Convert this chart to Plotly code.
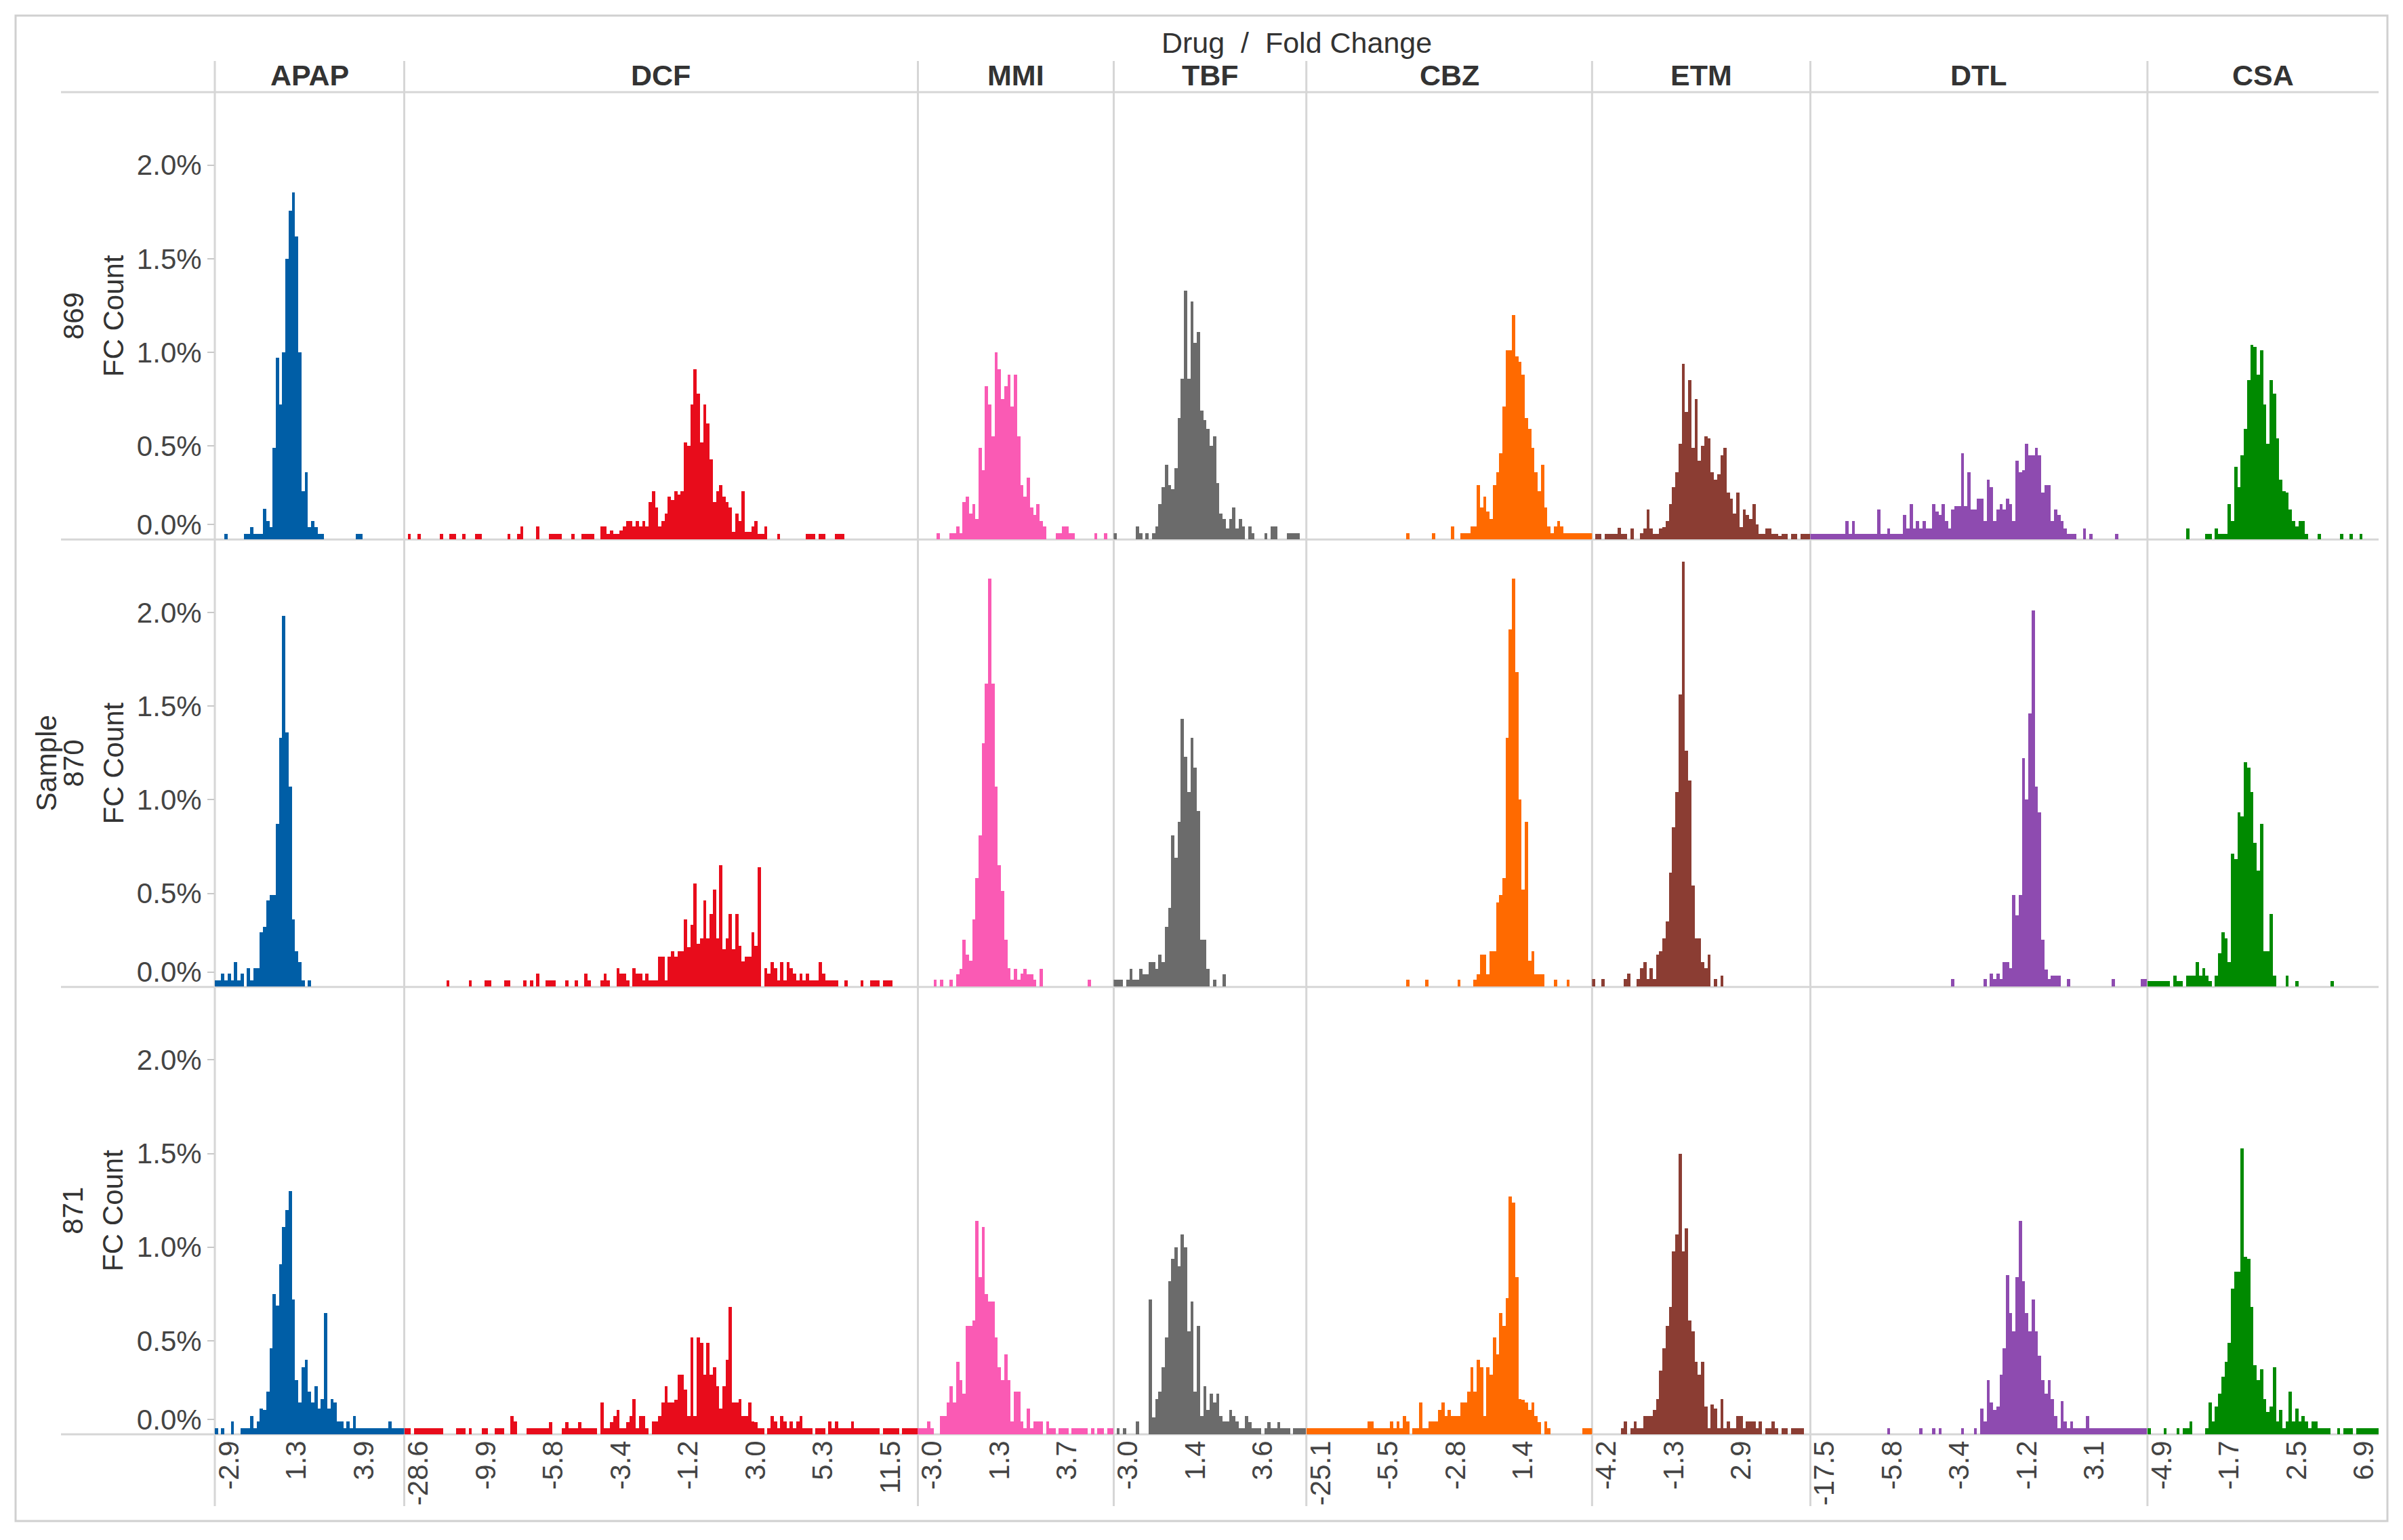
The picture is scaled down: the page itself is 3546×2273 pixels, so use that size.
import plotly.graph_objects as go
from plotly.subplots import make_subplots

# facet layout: columns = drug, rows = sample
drugs = ["APAP", "DCF", "MMI", "TBF", "CBZ", "ETM", "DTL", "CSA"]
samples = ["869", "870", "871"]
colors = ["#005ea6", "#e80c1b", "#fa5ab4", "#6b6b6b", "#ff6a00", "#8b3d33", "#8e4bb0", "#008a00"]

# fold change bin labels shown under each drug
apap_ticks = ["-2.9", "1.3", "3.9"]
dcf_ticks = ["-28.6", "-9.9", "-5.8", "-3.4", "-1.2", "3.0", "5.3", "11.5"]
mmi_ticks = ["-3.0", "1.3", "3.7"]
tbf_ticks = ["-3.0", "1.4", "3.6"]
cbz_ticks = ["-25.1", "-5.5", "-2.8", "1.4"]
etm_ticks = ["-4.2", "-1.3", "2.9"]
dtl_ticks = ["-17.5", "-5.8", "-3.4", "-1.2", "3.1"]
csa_ticks = ["-4.9", "-1.7", "2.5", "6.9"]

# FC count (% of total) per fold change bin
apap_869 = [0, 0, 0, .03, 0, 0, 0, 0, 0, .03,
            .03, .065, .03, .03, .03, .165, .1, .065, .49, .97,
            .72, 1.0, 1.5, 1.755, 1.855, 1.62, 1.0, .26, .36, .065,
            .1, .065, .03, .03, 0, 0, 0, 0, 0, 0,
            0, 0, 0, 0, .03, .03, 0, 0, 0, 0,
            0, 0, 0, 0, 0, 0, 0, 0, 0]
apap_870 = [.035, .035, .07, .035, .07, .035, .13, .035, .07, 0,
            .1, .035, .1, .1, .29, .32, .46, .49, .49, .87,
            1.33, 1.98, 1.36, 1.07, .36, .19, .13, .035, 0, .035,
            0, 0, 0, 0, 0, 0, 0, 0, 0, 0,
            0, 0, 0, 0, 0, 0, 0, 0, 0, 0,
            0, 0, 0, 0, 0, 0, 0, 0, 0]
apap_871 = [.034, 0, .034, 0, 0, .07, 0, 0, .034, .034,
            .034, .1, .034, .07, .14, .13, .23, .46, .75, .69,
            .91, 1.11, 1.2, 1.3, .72, .29, .17, .36, .4, .23,
            .17, .26, .14, .19, .65, .14, .19, .17, .07, .07,
            .034, .07, .034, .1, .034, .034, .034, .034, .034, .034,
            .034, .034, .034, .034, .07, .034, .034, .034, .034]

dcf_869 = [0, .03, 0, 0, .03, 0, 0, 0, 0, 0,
           0, .03, 0, 0, .03, .03, 0, 0, .03, 0,
           0, 0, .03, .03, 0, 0, 0, 0, 0, 0,
           0, 0, .03, 0, 0, .03, .07, 0, 0, 0,
           0, .07, 0, 0, 0, .03, .03, .03, .03, 0,
           0, 0, .03, 0, 0, .03, .03, .03, .03, 0,
           0, .07, .07, .03, .05, .03, .03, .05, .07, .1,
           .1, .07, .1, .07, .1, .07, .2, .26, .17, .07,
           .1, .14, .23, .21, .26, .24, .26, .52, .5, .72,
           .91, .78, .52, .72, .62, .43, .2, .26, .29, .23,
           .2, .17, .04, .14, .1, .26, .04, .04, .07, .1,
           .03, .03, .07, 0, 0, 0, .03, 0, 0, 0,
           0, 0, 0, 0, 0, .03, .03, .03, 0, .03,
           .03, 0, 0, 0, .03, .03, .03, 0, 0, 0,
           0, 0, 0, 0, 0, 0, 0, 0, 0, 0,
           0, 0, 0, 0, 0, 0, 0, 0, 0, 0]
dcf_870 = [0, 0, 0, 0, 0, 0, 0, 0, 0, 0,
           0, 0, 0, .035, 0, 0, 0, 0, 0, 0,
           .035, 0, 0, 0, 0, .035, .035, 0, 0, 0,
           0, .035, .035, 0, 0, 0, 0, .035, 0, .035,
           0, .07, 0, 0, .035, .035, .035, 0, 0, 0,
           .035, 0, 0, .035, 0, 0, .07, .035, 0, 0,
           0, .035, .07, .035, 0, 0, .1, .07, .07, .035,
           0, .1, .07, .07, .035, .07, .035, .035, .035, .16,
           .16, .035, .16, .19, .16, .19, .19, .36, .21, .33,
           .55, .23, .26, .46, .26, .39, .52, .26, .65, .2,
           .26, .39, .2, .39, .22, .135, .16, .16, .29, .22,
           .64, 0, .1, .07, .13, .1, .035, .13, .035, .13,
           .1, .07, .035, .07, .035, .07, .035, .035, .035, .13,
           .07, .035, .035, .035, .035, 0, 0, .035, 0, 0,
           0, 0, .035, 0, 0, .035, .035, .035, 0, .035,
           .035, .035, 0, 0, 0, 0, 0, 0, 0, 0]
dcf_871 = [.034, .034, 0, .034, .034, .034, .034, .034, .034, .034,
           .034, .034, 0, 0, 0, 0, .034, .034, .034, 0,
           .034, 0, 0, 0, .034, .034, 0, 0, .034, .034,
           .034, 0, 0, .1, .07, 0, 0, 0, .034, .034,
           .034, .034, .034, .034, .034, .065, 0, 0, 0, .034,
           .065, .034, .034, .034, .065, .034, .034, .034, .034, .034,
           0, .17, .034, .034, .065, .1, .13, .034, .034, .065,
           .1, .19, .034, .1, .1, .034, 0, .07, .07, .1,
           .17, .26, .17, .17, .185, .32, .32, .24, .1, .52,
           .1, .52, .49, .32, .49, .32, .36, .26, .14, .26,
           .4, .68, .17, .17, .19, .1, .1, .17, .07, .065,
           .034, .034, 0, .034, .1, .07, .034, .1, .07, .034,
           .07, .034, .07, .1, .034, .034, .034, 0, .034, .034,
           .034, 0, .07, .034, .07, .034, .034, .034, .034, .07,
           .034, .034, .034, .034, .034, .034, .034, .034, 0, .034,
           .034, .034, .034, .034, 0, .034, .034, .034, .034, .034]

mmi_869 = [0, 0, 0, 0, 0, 0, .035, 0, 0, 0,
           .035, .035, .07, .035, .2, .23, .14, .19, .11, .49,
           .37, .82, .72, .55, 1.0, .91, .75, .82, .88, .71,
           .88, .55, .29, .23, .33, .17, .13, .19, .1, .07,
           0, 0, 0, .035, .035, .07, .07, .035, .035, 0,
           0, 0, 0, 0, 0, .035, 0, 0, .035, 0,
           0]
mmi_870 = [0, 0, 0, 0, 0, .037, 0, .037, 0, 0,
           .037, 0, .065, .095, .25, .17, .14, .36, .58, .81,
           1.3, 1.62, 2.18, 1.62, 1.07, .65, .51, .25, .1, .037,
           .095, .037, .07, .095, .065, .065, .037, 0, .095, 0,
           0, 0, 0, 0, 0, 0, 0, 0, 0, 0,
           0, 0, 0, .037, 0, 0, 0, 0, 0, 0,
           0]
mmi_871 = [.034, .034, .034, .07, .034, 0, 0, .1, .1, .17,
           .26, .17, .39, .29, .22, .58, .58, .61, 1.14, .84,
           1.11, .75, .71, .71, .52, .36, .29, .43, .29, .07,
           .23, .23, .07, .034, .14, .034, .07, .07, .07, 0,
           .07, .034, .034, 0, .034, .034, .034, 0, .034, .034,
           .034, .034, .034, 0, .034, 0, .034, .034, 0, .034,
           .034]

tbf_869 = [.035, 0, 0, 0, 0, 0, 0, .07, .035, 0,
           .035, 0, .035, .07, .19, .28, .4, .29, .27, .38,
           .65, .86, 1.33, .86, 1.27, 1.05, 1.11, .69, .64, .59,
           .5, .55, .3, .14, .11, .06, .11, .17, .06, .11,
           .07, 0, .07, .035, 0, 0, 0, .035, 0, .07,
           .07, 0, 0, 0, .035, .035, .035, .035, 0, 0]
tbf_870 = [.037, .037, .037, 0, .037, .095, .037, .037, .095, .065,
           .065, .13, .13, .095, .17, .13, .32, .42, .81, .69,
           .88, 1.43, 1.23, 1.04, 1.33, 1.17, .94, .25, .25, .095,
           0, .037, 0, 0, .065, 0, 0, 0, 0, 0,
           0, 0, 0, 0, 0, 0, 0, 0, 0, 0,
           0, 0, 0, 0, 0, 0, 0, 0, 0, 0]
tbf_871 = [0, .034, 0, .034, 0, 0, 0, .07, 0, 0,
           0, .72, .09, .19, .23, .36, .52, .82, .94, 1.0,
           .9, 1.07, 1.0, .55, .71, .23, .58, .1, .26, .13,
           .22, .17, .22, .1, .07, .07, .13, .1, .07, .034,
           .034, .1, .065, .034, .034, .034, 0, .034, .065, .034,
           .034, .065, .034, .034, .034, 0, .034, .034, .034, .034]

cbz_869 = [0, 0, 0, 0, 0, 0, 0, 0, 0, 0,
           0, 0, 0, 0, 0, 0, 0, 0, 0, 0,
           0, 0, 0, 0, 0, 0, 0, 0, 0, 0,
           0, .035, 0, 0, 0, 0, 0, 0, 0, .035,
           0, 0, 0, 0, 0, .07, 0, 0, .035, .035,
           .035, .07, .07, .29, .17, .23, .15, .11, .29, .36,
           .46, .71, 1.01, 1.01, 1.2, .98, .95, .88, .65, .59,
           .49, .36, .26, .4, .17, .07, .035, .07, .1, .07,
           .035, .035, .035, .035, .035, .035, .035, .035, .035]
cbz_870 = [0, 0, 0, 0, 0, 0, 0, 0, 0, 0,
           0, 0, 0, 0, 0, 0, 0, 0, 0, 0,
           0, 0, 0, 0, 0, 0, 0, 0, 0, 0,
           0, .037, 0, 0, 0, 0, 0, .037, 0, 0,
           0, 0, 0, 0, 0, 0, 0, .037, 0, 0,
           0, 0, .037, .065, .17, .17, .065, .19, .19, .45,
           .49, .58, 1.33, 1.91, 2.18, 1.68, 1.0, .52, .88, .14,
           .19, .065, .065, .065, 0, 0, 0, .037, 0, 0,
           0, .037, 0, 0, 0, 0, 0, 0, 0]
cbz_871 = [.034, .034, .034, .034, .034, .034, .034, .034, .034, .034,
           .034, .034, .034, .034, .034, .034, .034, .034, .034, .07,
           .07, .034, .034, .034, .034, .034, .07, .034, .07, .034,
           .1, .07, 0, .034, .034, .17, .034, .034, .07, .07,
           .07, .13, .17, .1, .13, .1, .1, .1, .17, .17,
           .23, .36, .23, .4, .36, .1, .36, .32, .52, .43,
           .65, .58, .73, 1.27, 1.24, .84, .19, .185, .17, .13,
           .17, .1, .065, 0, .07, .034, 0, 0, 0, 0,
           0, 0, 0, 0, 0, 0, .034, .034, .034]

etm_869 = [0, .03, .03, 0, .03, .03, .03, .03, .063, .03,
           .03, 0, .06, 0, 0, .035, .06, .16, .06, .03,
           .03, .06, .065, .1, .19, .28, .36, .51, .94, .68,
           .85, .49, .75, .42, .5, .55, .54, .36, .32, .35,
           .45, .49, .25, .22, .14, .25, .066, .16, .13, .11,
           .19, .08, .03, .03, .06, .06, .03, .03, .02, .03,
           .03, 0, .03, .03, 0, .03, .03, .03]
etm_870 = [.04, 0, 0, .04, 0, 0, 0, 0, 0, 0,
           .04, .07, 0, 0, .04, .1, .13, .04, .1, .04,
           .17, .19, .26, .35, .61, .85, 1.04, 1.56, 2.27, 1.26,
           1.1, .54, .26, .26, .13, .1, .17, 0, .04, 0,
           .06, 0, 0, 0, 0, 0, 0, 0, 0, 0,
           0, 0, 0, 0, 0, 0, 0, 0, 0, 0,
           0, 0, 0, 0, 0, 0, 0, 0]
etm_871 = [0, 0, 0, 0, 0, 0, 0, 0, 0, .034,
           .07, 0, .034, .07, .034, .034, .1, .1, .1, .13,
           .19, .34, .46, .58, .68, .98, 1.07, 1.5, .98, 1.1,
           .61, .55, .39, .32, .39, .15, .034, .16, .14, .034,
           .19, .034, .07, .034, .034, .1, .1, .034, .07, .07,
           .07, .034, .07, 0, .034, .034, .07, .034, 0, .034,
           .034, 0, .034, .034, .034, .034, 0, 0]

dtl_869 = [.03, .03, .03, .03, .03, .03, .03, .03, .03, .03,
           .03, .1, .03, .1, .03, .03, .03, .03, .03, .03,
           .03, .16, .03, .03, .06, .03, .03, .03, .03, .13,
           .06, .19, .06, .1, .06, .1, .06, .06, .19, .15,
           .13, .19, .1, .06, .16, .18, .18, .46, .18, .36,
           .16, .16, .22, .22, .1, .32, .28, .1, .16, .19,
           .16, .22, .19, .1, .42, .36, .37, .51, .45, .45,
           .49, .45, .25, .29, .29, .1, .16, .13, .1, .06,
           .03, .03, .03, 0, 0, .06, 0, .03, 0, 0,
           0, 0, 0, 0, 0, .03, 0, 0, 0, 0,
           0, 0, 0, 0, 0]
dtl_870 = [0, 0, 0, 0, 0, 0, 0, 0, 0, 0,
           0, 0, 0, 0, 0, 0, 0, 0, 0, 0,
           0, 0, 0, 0, 0, 0, 0, 0, 0, 0,
           0, 0, 0, 0, 0, 0, 0, 0, 0, 0,
           0, 0, 0, 0, .04, 0, 0, 0, 0, 0,
           0, 0, 0, 0, .04, 0, .07, .04, .07, .04,
           .13, .13, .1, .49, .38, .49, 1.22, 1.0, 1.46, 2.01,
           1.07, .93, .25, .09, .04, .06, .06, .06, 0, 0,
           .04, 0, 0, 0, 0, 0, 0, 0, 0, 0,
           0, 0, 0, 0, .04, 0, 0, 0, 0, 0,
           0, 0, 0, .04, .04]
dtl_871 = [0, 0, 0, 0, 0, 0, 0, 0, 0, 0,
           0, 0, 0, 0, 0, 0, 0, 0, 0, 0,
           0, 0, 0, 0, .034, 0, 0, 0, 0, 0,
           0, 0, 0, 0, .034, 0, 0, 0, .034, 0,
           .034, 0, 0, 0, 0, 0, 0, .034, 0, 0,
           0, .034, 0, .14, .07, .29, .17, .13, .15, .32,
           .46, .85, .65, .55, .84, 1.14, .82, .65, .55, .72,
           .55, .42, .29, .22, .29, .19, .1, .034, .18, .07,
           .034, .07, .034, .034, .034, .034, .1, .034, .034, .034,
           .034, .034, .034, .034, .034, .034, .034, .034, .034, .034,
           .034, .034, .034, .034, .034]

csa_869 = [0, 0, 0, 0, 0, 0, 0, 0, 0, 0,
           0, 0, .06, 0, 0, 0, 0, 0, .03, .03,
           0, .06, .03, .03, .03, .19, .1, .39, .28, .45,
           .59, .85, 1.04, 1.03, .88, 1.01, .72, .51, .85, .78,
           .54, .32, .26, .25, .16, .1, .07, .1, .1, .03,
           0, 0, 0, .03, 0, 0, 0, 0, 0, 0,
           .03, 0, 0, .03, 0, 0, .03, 0, 0, 0,
           0, 0]
csa_870 = [.03, .03, .03, .03, .03, .03, .03, 0, .06, .03,
           .03, 0, .06, .06, .06, .13, .06, .1, .06, .03,
           0, .06, .18, .29, .26, .13, .71, .68, .93, .91,
           1.2, 1.17, 1.04, .77, .62, .87, .19, .19, .39, .06,
           0, 0, 0, .06, 0, 0, .03, 0, 0, 0,
           0, 0, 0, 0, 0, 0, 0, .03, 0, 0,
           0, 0, 0, 0, 0, 0, 0, 0, 0, 0,
           0, 0]
csa_871 = [.034, 0, 0, 0, 0, .034, 0, 0, 0, .034,
           0, .034, .034, .07, 0, 0, 0, 0, .034, .17,
           .07, .15, .22, .31, .39, .49, .78, .87, .87, 1.53,
           .95, .94, .68, .37, .29, .35, .19, .12, .15, .36,
           .07, .13, .034, .07, .23, .07, .14, .07, .1, .07,
           .034, .07, .07, .034, .034, .034, .034, 0, 0, .034,
           0, .034, .034, .034, 0, .034, .034, .034, .034, .034,
           .034, .034]

panels = [
    [apap_869, apap_870, apap_871],
    [dcf_869, dcf_870, dcf_871],
    [mmi_869, mmi_870, mmi_871],
    [tbf_869, tbf_870, tbf_871],
    [cbz_869, cbz_870, cbz_871],
    [etm_869, etm_870, etm_871],
    [dtl_869, dtl_870, dtl_871],
    [csa_869, csa_870, csa_871],
]
ticks = [apap_ticks, dcf_ticks, mmi_ticks, tbf_ticks, cbz_ticks, etm_ticks, dtl_ticks, csa_ticks]

nbins = [max(len(s) for s in p) for p in panels]

# the page body has an 8px margin, so the figure is placed 8px in from the window corner
OFF = 8
W, H = 3546 - 2 * OFF, 2273 - 2 * OFF
L, T = 317 - OFF, 136 - OFF
R, B = W - (3510 - OFF), H - (2117 - OFF)
pw, ph = W - L - R, H - T - B
FONT = "Arial, 'Liberation Sans', sans-serif"
TXT = 42


def fx(px):
    # px measured on the full window
    return (px - OFF - L) / pw


def fy(py):
    return (H - B - (py - OFF)) / ph


fig = make_subplots(rows=3, cols=8, column_widths=nbins,
                    horizontal_spacing=0, vertical_spacing=0)

for c, drug in enumerate(drugs):
    n = nbins[c]
    for r in range(3):
        vals = panels[c][r] + [0] * (n - len(panels[c][r]))
        fig.add_trace(go.Bar(x=list(range(n)), y=vals,
                             marker=dict(color=colors[c], line=dict(width=0)),
                             name=drug + " " + samples[r], showlegend=False),
                      row=r + 1, col=c + 1)
        fig.update_xaxes(range=[-0.5, n - 0.5], showgrid=False, zeroline=False,
                         showline=False, ticks="", showticklabels=False,
                         fixedrange=True, row=r + 1, col=c + 1)
    # bin labels only under the bottom row
    fig.update_xaxes(showticklabels=True,
                     tickvals=[4 + 21 * j for j in range(len(ticks[c]))],
                     ticktext=ticks[c], tickangle=-90,
                     tickfont=dict(family=FONT, size=TXT, color="#444"),
                     row=3, col=c + 1)

fig.update_yaxes(range=[0, 2.39], showgrid=False, zeroline=False, showline=False,
                 ticks="", showticklabels=False, fixedrange=True)
for r in range(3):
    # Tableau nudges the 0.0% label up inside the pane
    fig.update_yaxes(showticklabels=True,
                     tickvals=[0.08, 0.5, 1.0, 1.5, 2.0],
                     ticktext=["0.0%", "0.5%", "1.0%", "1.5%", "2.0%"],
                     ticks="outside", ticklen=10, tickwidth=2, tickcolor="#c8c8c8",
                     tickfont=dict(family=FONT, size=TXT, color="#444"),
                     row=r + 1, col=1)

line = dict(color="#d6d6d6", width=3)
shapes = []
# outer frame
shapes.append(dict(type="rect", xref="paper", yref="paper",
                   x0=fx(23), x1=fx(3523), y0=fy(2245), y1=fy(23),
                   line=dict(color="#d0d0d0", width=3), layer="below"))
# header line and row dividers
for k in range(4):
    yk = 1 - k / 3
    shapes.append(dict(type="line", xref="paper", yref="paper",
                       x0=fx(90), x1=1, y0=yk, y1=yk, line=line, layer="below"))
# column dividers
doms = []
for c in range(8):
    dom = fig.layout["xaxis" + ("" if c == 0 else str(c + 1))].domain
    doms.append(dom)
    shapes.append(dict(type="line", xref="paper", yref="paper",
                       x0=dom[0], x1=dom[0], y0=fy(2223), y1=fy(90), line=line, layer="below"))

ann = []
ann.append(dict(text="Drug  /  Fold Change", x=0.5, y=fy(63), xref="paper", yref="paper",
                showarrow=False, xanchor="center", yanchor="middle",
                font=dict(family=FONT, size=43, color="#333")))
for c, drug in enumerate(drugs):
    dom = doms[c]
    ann.append(dict(text="<b>" + drug + "</b>", x=(dom[0] + dom[1]) / 2, y=fy(111),
                    xref="paper", yref="paper", showarrow=False,
                    xanchor="center", yanchor="middle",
                    font=dict(family=FONT, size=43, color="#333")))
for r, s in enumerate(samples):
    yc = 1 - (r + 0.5) / 3
    ann.append(dict(text=s, x=fx(108), y=yc, xref="paper", yref="paper", textangle=-90,
                    showarrow=False, xanchor="center", yanchor="middle",
                    font=dict(family=FONT, size=TXT, color="#333")))
    ann.append(dict(text="FC Count", x=fx(167), y=yc, xref="paper", yref="paper",
                    textangle=-90, showarrow=False, xanchor="center", yanchor="middle",
                    font=dict(family=FONT, size=TXT, color="#333")))
ann.append(dict(text="Sample", x=fx(68), y=0.5, xref="paper", yref="paper", textangle=-90,
                showarrow=False, xanchor="center", yanchor="middle",
                font=dict(family=FONT, size=TXT, color="#333")))

fig.update_layout(width=W, height=H, margin=dict(l=L, r=R, t=T, b=B),
                  paper_bgcolor="white", plot_bgcolor="rgba(0,0,0,0)",
                  bargap=0, showlegend=False, shapes=shapes, annotations=ann,
                  font=dict(family=FONT, color="#444"))

fig.write_html("out.html")
